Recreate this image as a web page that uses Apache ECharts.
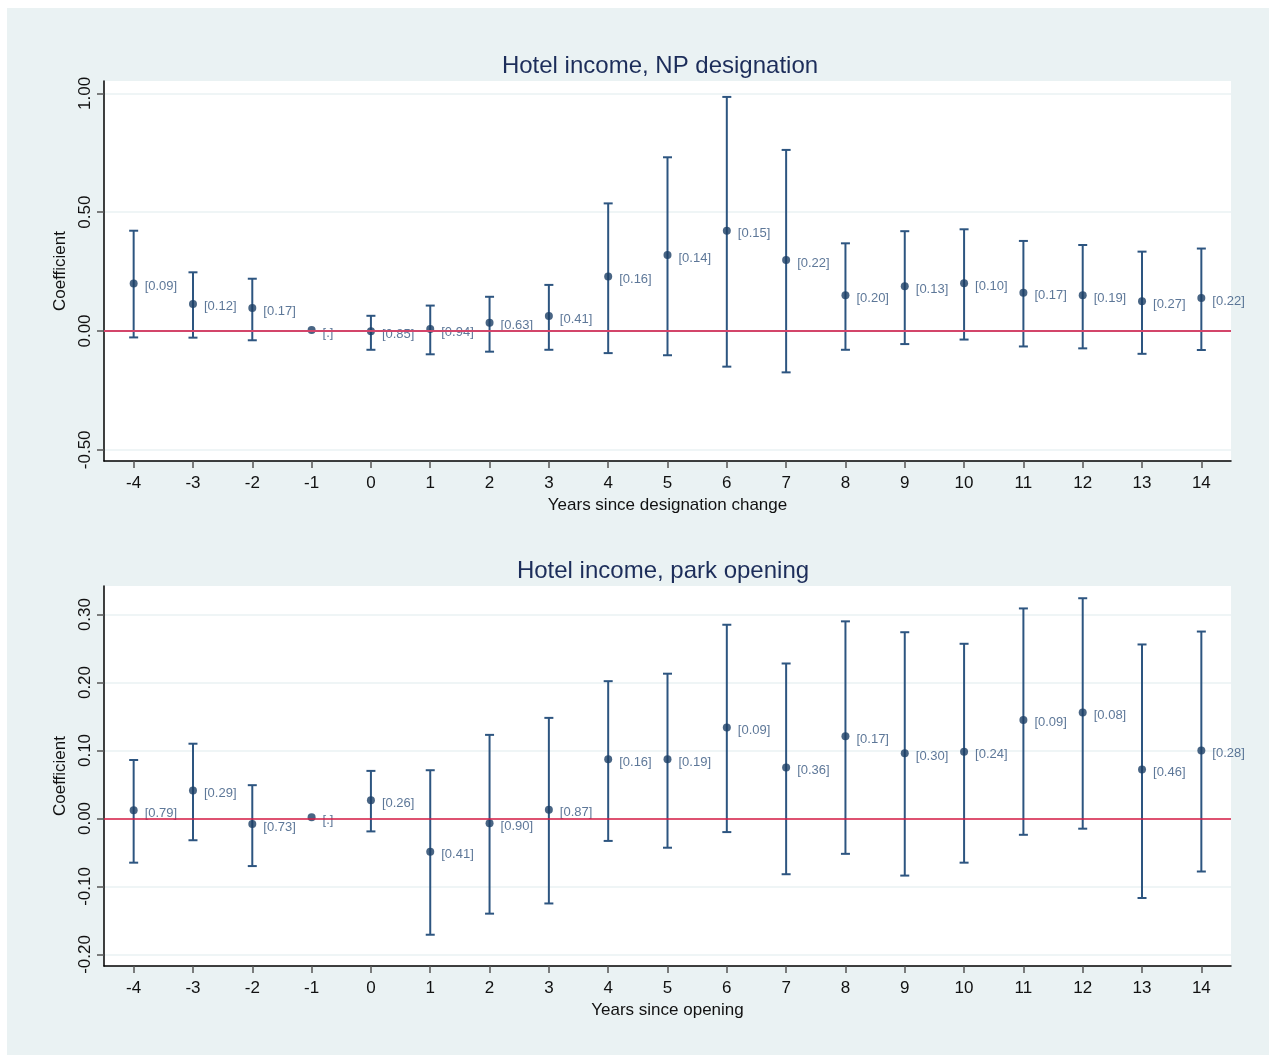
<!DOCTYPE html>
<html>
<head>
<meta charset="utf-8">
<script src="https://cdn.jsdelivr.net/npm/echarts@6/dist/echarts.min.js"></script>
<style>
html,body{margin:0;padding:0;background:#fff;}
#chart{position:absolute;left:7px;top:8px;width:1262px;height:1047px;background:#EAF2F3;}
</style>
</head>
<body>
<div id="chart"></div>
<script>
// ---- Data ----
const years = [-4,-3,-2,-1,0,1,2,3,4,5,6,7,8,9,10,11,12,13,14];

// Panel 1: Hotel income, NP designation
const npCoef = [0.200,0.114,0.097,0.004,-0.001,0.008,0.035,0.063,0.229,0.320,0.422,0.299,0.150,0.188,0.201,0.161,0.150,0.125,0.139];
const npLow  = [-0.027,-0.028,-0.039,null,-0.079,-0.098,-0.087,-0.079,-0.093,-0.102,-0.150,-0.174,-0.079,-0.055,-0.036,-0.065,-0.073,-0.096,-0.080];
const npHigh = [0.422,0.247,0.220,null,0.064,0.107,0.144,0.194,0.537,0.731,0.985,0.762,0.369,0.420,0.428,0.379,0.362,0.334,0.347];
const npP    = ['[0.09]','[0.12]','[0.17]','[.]','[0.85]','[0.94]','[0.63]','[0.41]','[0.16]','[0.14]','[0.15]','[0.22]','[0.20]','[0.13]','[0.10]','[0.17]','[0.19]','[0.27]','[0.22]'];

// Panel 2: Hotel income, park opening
const poCoef = [0.012,0.041,-0.008,0.002,0.027,-0.049,-0.007,0.013,0.087,0.087,0.134,0.075,0.121,0.096,0.098,0.145,0.156,0.072,0.100];
const poLow  = [-0.065,-0.032,-0.070,null,-0.019,-0.171,-0.140,-0.125,-0.033,-0.043,-0.020,-0.082,-0.052,-0.084,-0.065,-0.024,-0.015,-0.117,-0.078];
const poHigh = [0.086,0.110,0.049,null,0.070,0.071,0.123,0.148,0.202,0.213,0.285,0.228,0.290,0.274,0.257,0.309,0.324,0.256,0.275];
const poP    = ['[0.79]','[0.29]','[0.73]','[.]','[0.26]','[0.41]','[0.90]','[0.87]','[0.16]','[0.19]','[0.09]','[0.36]','[0.17]','[0.30]','[0.24]','[0.09]','[0.08]','[0.46]','[0.28]'];

const npTicks = [-0.5, 0, 0.5, 1.0];
const poTicks = [-0.2, -0.1, 0, 0.1, 0.2, 0.3];
const titles = ['Hotel income, NP designation', 'Hotel income, park opening'];
const xNames = ['Years since designation change', 'Years since opening'];

// ---- Chart ----
const FONT = '"Liberation Sans", Arial, Helvetica, sans-serif';
const chart = echarts.init(document.getElementById('chart'), null, {renderer: 'canvas'});

function errData(lo, hi) {
  const out = [];
  years.forEach((y, i) => { if (lo[i] !== null && hi[i] !== null) out.push([y, lo[i], hi[i]]); });
  return out;
}

function errSeries(idx, lo, hi) {
  return {
    type: 'custom', xAxisIndex: idx, yAxisIndex: idx, z: 3, silent: true,
    data: errData(lo, hi),
    renderItem: function (params, api) {
      const x = api.value(0);
      const p1 = api.coord([x, api.value(2)]);
      const p2 = api.coord([x, api.value(1)]);
      const w = 4.5;
      const st = {stroke: '#2d5580', lineWidth: 2};
      return {type: 'group', children: [
        {type: 'line', shape: {x1: p1[0], y1: p1[1], x2: p2[0], y2: p2[1]}, style: st},
        {type: 'line', shape: {x1: p1[0] - w, y1: p1[1], x2: p1[0] + w, y2: p1[1]}, style: st},
        {type: 'line', shape: {x1: p2[0] - w, y1: p2[1], x2: p2[0] + w, y2: p2[1]}, style: st}
      ]};
    }
  };
}

function pointSeries(idx, coef, labels) {
  return {
    type: 'scatter', xAxisIndex: idx, yAxisIndex: idx, z: 4, silent: true,
    symbol: 'circle', symbolSize: 8,
    itemStyle: {color: '#1b3e65'},
    data: years.map((y, i) => [y, coef[i]]),
    label: {
      show: true, position: 'right', distance: 7, offset: [0, 3],
      formatter: p => labels[p.dataIndex],
      color: '#34557e', fontSize: 13, fontFamily: FONT
    }
  };
}

function zeroLine(idx, color, width) {
  return {
    type: 'line', xAxisIndex: idx, yAxisIndex: idx, z: 2, data: [], silent: true,
    markLine: {silent: true, symbol: 'none', label: {show: false},
      lineStyle: {color: color, width: width, type: 'solid'},
      data: [{yAxis: 0}]}
  };
}

function yAxis(idx, min, max, ticks) {
  return {
    type: 'value', gridIndex: idx, min: min, max: max,
    name: 'Coefficient', nameLocation: 'middle', nameGap: 34,
    nameTextStyle: {fontSize: 17, fontFamily: FONT, color: '#111'},
    axisLine: {show: true, onZero: false, lineStyle: {color: '#000', width: 1.5}},
    axisTick: {show: true, length: 7, lineStyle: {color: '#555', width: 1.5}, customValues: ticks},
    axisLabel: {rotate: 90, margin: 10, fontSize: 17, fontFamily: FONT, color: '#111',
      customValues: ticks, formatter: v => v.toFixed(2)},
    splitLine: {show: true, lineStyle: {color: '#EAF2F3', width: 1.5}}
  };
}

function xAxis(idx, name) {
  return {
    type: 'value', gridIndex: idx, min: -4.5, max: 14.5,
    name: name, nameLocation: 'middle', nameGap: 36,
    nameTextStyle: {fontSize: 17, fontFamily: FONT, color: '#111'},
    axisLine: {show: true, onZero: false, lineStyle: {color: '#000', width: 1.5}},
    axisTick: {show: true, length: 7, lineStyle: {color: '#555', width: 1.5}, customValues: years},
    axisLabel: {margin: 14, fontSize: 17, fontFamily: FONT, color: '#111', customValues: years,
      formatter: v => String(v)},
    splitLine: {show: false}
  };
}

const option = {
  backgroundColor: '#EAF2F3',
  animation: false,
  title: [
    {text: titles[0], left: 648, top: 41, textAlign: 'center',
      textStyle: {fontSize: 24, fontWeight: 'normal', color: '#1c2d5a', fontFamily: FONT}},
    {text: titles[1], left: 651, top: 546, textAlign: 'center',
      textStyle: {fontSize: 24, fontWeight: 'normal', color: '#1c2d5a', fontFamily: FONT}}
  ],
  grid: [
    {left: 97, top: 73, width: 1127, height: 380, show: true, backgroundColor: '#fff', borderWidth: 0},
    {left: 97, top: 578, width: 1127, height: 380, show: true, backgroundColor: '#fff', borderWidth: 0}
  ],
  xAxis: [xAxis(0, xNames[0]), xAxis(1, xNames[1])],
  yAxis: [yAxis(0, -0.547, 1.052, npTicks), yAxis(1, -0.217, 0.342, poTicks)],
  series: [
    zeroLine(0, '#d3456a', 2),
    errSeries(0, npLow, npHigh),
    pointSeries(0, npCoef, npP),
    zeroLine(1, '#d81b45', 1.5),
    errSeries(1, poLow, poHigh),
    pointSeries(1, poCoef, poP)
  ]
};
chart.setOption(option);
</script>
</body>
</html>
